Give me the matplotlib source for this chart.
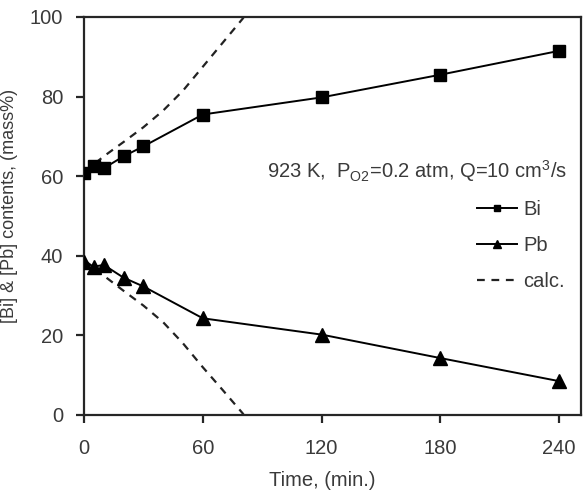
import matplotlib
matplotlib.use("Agg")
import matplotlib.pyplot as plt

plt.rcParams['font.family'] = ['Liberation Sans', 'DejaVu Sans']
plt.rcParams['mathtext.fontset'] = 'custom'
plt.rcParams['mathtext.rm'] = 'Liberation Sans'

# Data
time_exp = [0, 5, 10, 20, 30, 60, 120, 180, 240]
bi_exp = [60.8, 62.5, 62.0, 65.0, 67.5, 75.5, 79.8, 85.5, 91.5]
pb_exp = [38.5, 37.3, 37.7, 34.5, 32.3, 24.3, 20.2, 14.3, 8.5]

time_calc = [0, 10, 20, 30, 40, 50, 60, 70, 80, 85]
bi_calc = [61.0, 65.0, 68.6, 72.3, 76.5, 81.5, 87.5, 93.5, 99.5, 103.0]
pb_calc = [39.0, 35.0, 31.2, 27.5, 23.3, 18.0, 12.0, 6.3, 0.5, -3.0]

xticks = [0, 60, 120, 180, 240]
yticks = [0, 20, 40, 60, 80, 100]

fig = plt.figure(figsize=(5.86, 4.92), dpi=100)
ax = fig.add_axes([84/586, 1-415/492, (581-84)/586, (415-17)/492])

txtc = '#3a3a3a'
ax.plot(time_calc, bi_calc, ls=(0, (3.5, 3.0)), color='#222222', lw=1.6, label='calc.', zorder=2)
ax.plot(time_calc, pb_calc, ls=(0, (3.5, 3.0)), color='#222222', lw=1.6, zorder=2)
ax.plot(time_exp, bi_exp, marker='s', ms=8.5, color='black', lw=1.4, label='Bi', zorder=3)
ax.plot(time_exp, pb_exp, marker='^', ms=9.5, color='black', lw=1.4, label='Pb', zorder=3)

ax.set_xlim(0, 251)
ax.set_ylim(0, 100)
ax.set_xticks(xticks)
ax.set_yticks(yticks)
for s in ax.spines.values():
    s.set_linewidth(1.6)
    s.set_color('#262626')
ax.tick_params(axis='both', direction='out', length=6, width=1.6, color='#262626',
               labelsize=14.5, labelcolor=txtc)
ax.tick_params(axis='x', pad=11)
ax.tick_params(axis='y', pad=9)

ax.set_xlabel('Time, (min.)', fontsize=14.5, color=txtc)
ax.set_ylabel('[Bi] & [Pb] contents, (mass%)', fontsize=13, color=txtc)
ax.xaxis.set_label_coords(0.479, -0.14)
ax.yaxis.set_label_coords(-0.133, 0.525)

ax.text(0.368, 0.595, r'923 K,  P$_{\mathregular{O2}}$=0.2 atm, Q=10 cm$^{\mathregular{3}}$/s',
        transform=ax.transAxes, fontsize=14.5, color=txtc, va='baseline')

handles, labels = ax.get_legend_handles_labels()
order = [1, 2, 0]
leg = ax.legend([handles[i] for i in order], [labels[i] for i in order],
                loc='upper left', bbox_to_anchor=(0.77, 0.565), frameon=False,
                fontsize=14.5, markerscale=0.55, handlelength=2.0, handletextpad=0.3,
                labelspacing=0.85, borderpad=0)
for t in leg.get_texts():
    t.set_color(txtc)

fig.savefig('out.png', dpi=100)
